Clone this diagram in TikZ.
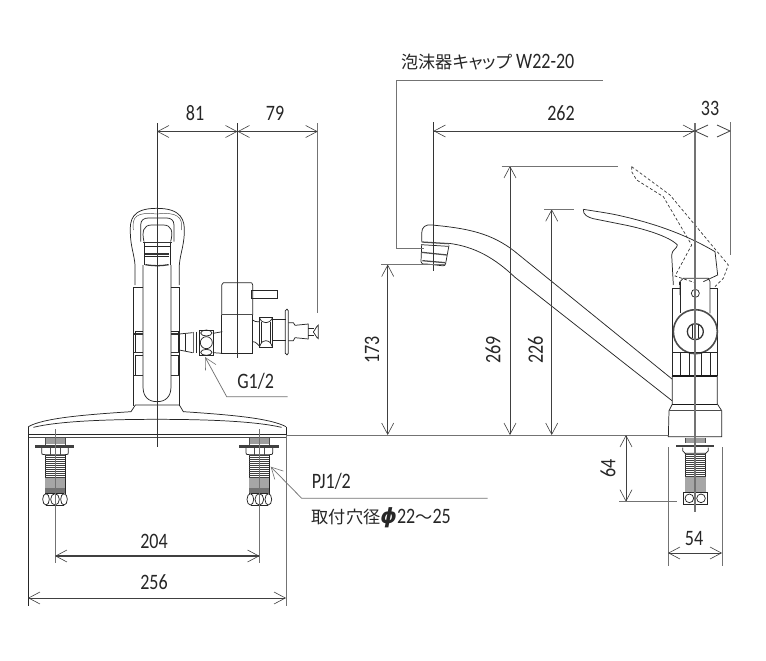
\documentclass[tikz,border=0pt]{standalone}
\usepackage{fontspec}
\setmainfont{Carlito}[FakeStretch=0.82]
\newfontfamily\jpfont{Noto Sans CJK JP}[RawFeature=+palt,Scale=0.78]
\newfontfamily\phifont{DejaVu Sans}[Scale=0.95]
\usetikzlibrary{arrows.meta}
\definecolor{grayline}{gray}{0.45}
\definecolor{midgray}{gray}{0.62}
\tikzset{
  x=0.75pt,y=-0.75pt,
  barb/.tip={Straight Barb[length=8.5pt,width=9pt,line width=0.45pt]},
  part/.style={line width=0.55pt,draw=black!85},
  thin part/.style={line width=0.35pt,draw=black!70},
  heavy/.style={line width=0.95pt,draw=black!80},
  dashpart/.style={line width=0.5pt,draw=black!80,dash pattern=on 2.2pt off 1.6pt},
  ext/.style={line width=0.55pt,draw=grayline},
  center/.style={line width=0.7pt,draw=black!80},
  graycenter/.style={line width=0.8pt,draw=black!55},
  dim/.style={line width=0.6pt,draw=black!75},
  dima/.style={dim,barb-barb},
  lab/.style={inner sep=0pt,font=\fontsize{16.5}{18}\selectfont,text=black!85},
  zoomA/.style={shift={(20,190)},x=0.25pt,y=-0.25pt},
  zoomB/.style={shift={(20,400)},x=0.25pt,y=-0.25pt},
  zoomC/.style={shift={(620,150)},x=0.25pt,y=-0.25pt},
  zoomD/.style={shift={(640,280)},x=0.25pt,y=-0.25pt},
  zoomE/.style={shift={(385,200)},x=0.25pt,y=-0.25pt},
  zoomF/.style={shift={(200,270)},x=0.25pt,y=-0.25pt},
  screw/.pic={
    \fill[midgray] (-30,0) rectangle (30,18);
    \draw[thin part] (-30,0) -- (-30,22) (30,0) -- (30,22);
    \fill[black!75] (-60,23) rectangle (58,31);
    \draw[part] (-40,31) -- (-40,45) .. controls (-40,50) .. (-30,51) -- (30,51) .. controls (40,50) .. (40,45) -- (40,31);
    \draw[thin part] (-15,31) -- (-15,51) (15,31) -- (15,51);
    \draw[part] (-30,51) -- (-30,168) (30,51) -- (30,168);
    \foreach \yy in {54,60,...,120} \draw[line width=0.3pt,black!75] (-30,\yy) -- (30,\yy);
    \fill[black!35] (-30,122) rectangle (30,152);
    \fill[black!55] (-30,152) rectangle (30,166);
    \draw[part] (-27,185) ellipse (10 and 17);
    \draw[part] (0,185) ellipse (13 and 17);
    \draw[part] (27,185) ellipse (10 and 17);
    \draw[part] (-26,168) -- (26,168) (-26,202) -- (26,202);
  }
}
\begin{document}
\begin{tikzpicture}
\useasboundingbox (0,0) rectangle (766,660);
\fill[white] (0,0) rectangle (766,660);

% ===== front view, upper part
\begin{scope}[zoomA]
\draw[part] (345,285) -- (345,225) .. controls (343,195) and (332,170) .. (331,130) .. controls (329,90) and (335,55) .. (410,55) .. controls (485,55) and (495,90) .. (493,130) .. controls (491,170) and (480,195) .. (478,225) -- (478,285);
\draw[thin part] (340,120) .. controls (335,80) and (350,65) .. (410,72) .. controls (470,65) and (490,80) .. (484,120);
\draw[part] (362,155) -- (362,105) .. controls (362,90) and (372,84) .. (385,84) -- (440,84) .. controls (452,84) and (462,90) .. (462,105) -- (462,155);
\draw[part] (372,155) .. controls (365,125) and (370,105) .. (395,105) -- (430,105) .. controls (455,105) and (460,125) .. (452,155);
\draw[heavy] (370,158) -- (455,158);
\draw[part] (372,160) -- (372,225) (450,160) -- (450,225);
\draw[part] (372,168) -- (450,168);
\draw[heavy] (375,192) -- (448,192);
\draw[part] (375,200) -- (448,200);
\draw[heavy] (376,224) .. controls (400,228) and (425,228) .. (446,224);
\draw[part] (369,225) -- (369,590) .. controls (369,620) and (385,635) .. (411,635) .. controls (437,635) and (453,620) .. (453,590) -- (453,225);
\draw[part] (340,292) -- (340,648) (478,292) -- (478,648);
\draw[part] (340,292) -- (369,292) (453,292) -- (478,292);
\draw[part] (345,425) -- (369,425) (453,425) -- (478,425);
\draw[heavy] (343,432) -- (369,432) (453,432) -- (478,432);
\draw[part] (345,425) -- (345,488) (475,425) -- (475,488);
\draw[heavy] (343,488) -- (369,488) (453,488) -- (478,488);
\draw[part] (345,495) -- (369,495) (453,495) -- (478,495);
\draw[part] (345,495) -- (345,555) (475,495) -- (475,555);
\draw[heavy] (343,556) -- (369,556) (453,556) -- (478,556);
% valve
\draw[part] (478,432) -- (518,428) (478,480) -- (518,488);
\draw[part] (496,432) -- (496,482);
\draw[heavy,draw=black!60] (520,425) -- (520,490);
\draw[part] (528,425) -- (528,490);
\draw[part] (538,420) -- (580,420) -- (580,496) -- (538,496) -- cycle;
\draw[part] (559,458) circle (18);
\draw[part] (559,429) ellipse (17 and 9);
\draw[part] (559,487) ellipse (17 and 9);
\draw[part] (580,430) .. controls (590,428) .. (607,425);
\draw[part] (580,488) -- (607,490);
\end{scope}

% ===== tap body
\begin{scope}[zoomF]
\draw[part] (65,135) -- (65,45) .. controls (65,40) .. (70,38) -- (150,38) .. controls (156,38) .. (158,45) -- (158,135);
\draw[heavy,draw=black!70] (65,133) -- (158,133);
\draw[part] (155,60) -- (232,60) -- (232,85) -- (155,85) -- cycle;
\draw[part] (65,135) -- (65,250) -- (158,250) -- (158,135);
\draw[part] (158,150) .. controls (165,155) .. (178,155);
\draw[part] (158,215) .. controls (165,215) .. (178,228);
\draw[part] (178,143) -- (218,143) -- (218,232) -- (178,232) -- cycle;
\draw[part] (178,143) .. controls (185,155) .. (198,158) .. controls (210,155) .. (218,143);
\draw[part] (178,232) .. controls (185,215) .. (198,212) .. controls (210,215) .. (218,232);
\draw[part] (184,155) -- (184,220) (212,155) -- (212,220);
\draw[part] (218,148) -- (258,148) (218,212) -- (258,212);
\draw[part] (256,122) -- (256,250) .. controls (258,256) and (264,256) .. (265,250) -- (265,122) .. controls (264,116) and (258,116) .. (256,122);
\draw[part] (265,158) -- (280,158) -- (285,166) -- (325,162) -- (325,207) -- (285,203) -- (280,212) -- (265,212);
\draw[part] (325,176) -- (342,176) (325,196) -- (342,196);
\draw[part] (340,186) .. controls (345,180) and (350,168) .. (355,165) -- (355,206) .. controls (350,204) and (345,192) .. (340,186);
\end{scope}

% ===== deck plate, front
\begin{scope}[zoomB]
\draw[part] (25,80) .. controls (70,55) and (180,45) .. (333,35) -- (346,15) -- (478,15) -- (490,35) .. controls (640,45) and (750,55) .. (798,80);
\draw[part] (40,82) .. controls (110,65) and (240,58) .. (411,58) .. controls (580,58) and (710,65) .. (785,82);
\draw[part] (25,80) -- (25,108) (798,80) -- (798,108);
\draw[part] (25,103) -- (798,103);
\draw[line width=0.7pt,black!70] (25,113) -- (798,113);
\end{scope}

% ===== screws
\begin{scope}[zoomB,shift={(105,113)}]
\pic {screw};
\end{scope}
\begin{scope}[zoomB,shift={(718,113)}]
\pic {screw};
\end{scope}

% ===== side view: spout
\begin{scope}[zoomE]
\draw[part] (110,125) -- (110,100) .. controls (110,80) and (122,73) .. (140,75) .. controls (250,85) and (320,100) .. (390,155);
\draw[part] (192,130) .. controls (270,140) and (330,175) .. (390,232);
\draw[heavy,draw=black!70] (110,126) -- (192,131);
\draw[part] (108,134) -- (190,139);
\draw[part] (110,134) -- (108,185) .. controls (110,192) .. (125,192) -- (170,197) .. controls (180,197) .. (182,190) -- (192,136);
\draw[heavy,draw=black!70] (110,157) -- (186,165);
\draw[heavy,draw=black!70] (112,182) -- (180,188);
\end{scope}
\coordinate (st1) at (515,251.7);
\coordinate (st2) at (672,379);
\coordinate (sb1) at (515,277.3);
\coordinate (sb2) at (672,400.7);
\draw[part] (st1) -- (st2) (sb1) -- (sb2);

% ===== side view: handle
\begin{scope}[zoomC]
\draw[part] (-110,178) .. controls (-60,186) and (-30,190) .. (0,197) .. controls (110,222) and (200,255) .. (285,305) -- (293,375) -- (250,395);
\draw[part] (-110,178) .. controls (-112,195) and (-95,202) .. (-80,206) -- (0,222) .. controls (70,235) and (150,260) .. (172,285) .. controls (172,295) and (155,300) .. (155,315) -- (160,405);
\draw[part] (178,395) -- (178,405);
\draw[dashpart] (35,50) -- (150,135) -- (325,345) -- (310,385) -- (285,410);
\draw[dashpart] (35,50) -- (35,65) -- (50,90) -- (130,140) -- (215,285) -- (165,378) -- (225,398);
\end{scope}

% ===== side view: body
\begin{scope}[zoomD]
\draw[part] (97,25) -- (97,288) (232,25) -- (232,288);
\draw[part] (97,25) -- (120,25) (210,25) -- (232,25);
\draw[part] (120,45) -- (120,5) -- (130,-5) -- (205,-5) -- (210,5) -- (210,100);
\draw[part] (120,5) -- (120,100);
\draw[part] (166,40) circle (12);
\draw[line width=1.2pt,black!70,fill=white] (166,155) circle (66);
\draw[heavy,fill=white] (166,155) circle (24);
\draw[part] (158,135) -- (158,175) (174,135) -- (174,175);
\draw[part] (97,218) -- (232,218);
\draw[part] (120,218) -- (120,288) (147,218) -- (147,288) (185,218) -- (185,288) (210,218) -- (210,288);
\draw[line width=1.2pt,black!90] (97,288) -- (232,288);
\draw[part] (97,288) -- (97,372) -- (87,392) -- (85,470) -- (245,470) -- (245,392) -- (232,372) -- (232,288);
\draw[line width=0.9pt,black!90] (97,373) -- (232,373);
\draw[thin part] (87,390) -- (245,390);
% lower fittings
\fill[midgray] (135,475) rectangle (195,490);
\draw[thin part] (135,475) -- (135,490) (195,475) -- (195,490);
\fill[black!75] (108,494) rectangle (222,502);
\draw[part] (128,503) -- (128,512) .. controls (130,518) .. (135,520) -- (197,520) .. controls (203,518) .. (205,512) -- (205,503);
\draw[part] (135,520) -- (135,637) (197,520) -- (197,637);
\foreach \yy in {524,530,...,590} \draw[line width=0.3pt,black!75] (135,\yy) -- (197,\yy);
\fill[black!35] (135,592) rectangle (197,636);
\draw[part] (130,637) rectangle (202,672);
\draw[part] (148,655) circle (13);
\draw[part] (183,655) circle (13);
\end{scope}

% ===== center lines
\coordinate (cfTop) at (157,123);
\coordinate (cfBot) at (157,447);
\draw[center] (cfTop) -- (cfBot);
\coordinate (tapTop) at (237.5,123);
\coordinate (tapBot) at (237.5,358);
\draw[center] (tapTop) -- (tapBot);
\coordinate (knobTop) at (317.7,123);
\coordinate (knobBot) at (317.7,313);
\draw[ext] (knobTop) -- (knobBot);
\draw[graycenter] (695,123) -- (695,512);
\draw[ext] (730,122) -- (730,255);
\draw[center] (433.5,122) -- (433.5,271);
% screw axes
\draw[ext] (55,429) -- (55,563);
\draw[ext] (259.5,429) -- (259.5,563);

% deck line extensions
\draw[ext] (286,435) -- (668,435);
\draw[part] (28,436) -- (28,606);
\draw[ext] (286,436) -- (286,606);
\draw[ext] (668,447) -- (668,566);
\draw[ext] (722,447) -- (722,566);

% ===== dimensions
\coordinate (d1) at (157,131.5);
\coordinate (d2) at (237.5,131.5);
\coordinate (d3) at (317.7,131.5);
\draw[dima] (d1) -- (d2);
\draw[dima] (d2) -- (d3);
\coordinate (d4) at (433.5,131);
\coordinate (d5) at (695,131);
\coordinate (d6) at (730,131);
\draw[dima] (d4) -- (d5);
\draw[dim] (708,125) -- (d5) -- (708,137);
\draw[dim] (717,125) -- (d6) -- (717,137);
\node[lab] (n81) at (195,113) {81};
\node[lab] (n79) at (275,113) {79};
\node[lab] (n262) at (561,113) {262};
\node[lab] (n33) at (710,108) {33};

\coordinate (v1) at (387.7,264.5);
\coordinate (v1b) at (387.7,435);
\draw[dima] (v1) -- (v1b);
\draw[ext] (381,264.5) -- (445,264.5);
\node[lab,rotate=90] (n173) at (372,350) {173};

\coordinate (v2) at (510,166);
\coordinate (v2b) at (510,435);
\draw[dima] (v2) -- (v2b);
\draw[ext] (501.5,166) -- (617.5,166);
\node[lab,rotate=90] (n269) at (493,350) {269};

\coordinate (v3) at (551.7,209.3);
\coordinate (v3b) at (551.7,435);
\draw[dima] (v3) -- (v3b);
\draw[ext] (544,209.3) -- (574,209.3);
\node[lab,rotate=90] (n226) at (535.5,350) {226};

\coordinate (v4) at (626,435);
\coordinate (v4b) at (626,501.7);
\draw[dima] (v4) -- (v4b);
\draw[ext] (619,501.7) -- (677,501.7);
\node[lab,rotate=90] (n64) at (608,468) {64};

\coordinate (h1) at (55,556);
\coordinate (h1b) at (259.5,556);
\draw[dima,line width=0.8pt] (h1) -- (h1b);
\node[lab] (n204) at (154,541) {204};
\coordinate (h2) at (28,598);
\coordinate (h2b) at (286,598);
\draw[dima] (h2) -- (h2b);
\node[lab] (n256) at (154,582) {256};
\coordinate (h3) at (668,553);
\coordinate (h3b) at (722,553);
\draw[dima] (h3) -- (h3b);
\node[lab] (n54) at (694,539) {54};

% ===== leaders and notes
\node[lab,anchor=west] (ncap) at (401,62) {{\jpfont 泡沫器キャップ} W22-20};
\coordinate (capa) at (396,80);
\coordinate (capb) at (602.5,80);
\coordinate (capc) at (396,248);
\coordinate (capd) at (424,248);
\draw[ext] (capb) -- (capa) -- (capc) -- (capd);

\node[lab,anchor=west] (ng) at (237,381) {G1/2};
\coordinate (ga) at (205,357);
\coordinate (gb) at (226.7,396.7);
\coordinate (gc) at (287.7,396.7);
\draw[ext,barb-] (ga) -- (gb) -- (gc);

\node[lab,anchor=west] (npj) at (311.5,481.5) {PJ1/2};
\coordinate (pa) at (270.7,466.7);
\coordinate (pb) at (301.7,498.3);
\coordinate (pc) at (487.7,498.3);
\draw[ext,barb-] (pa) -- (pb) -- (pc);
\node[lab,anchor=west] (nhole) at (311.5,518) {{\jpfont 取付穴径}{\phifont\bfseries\itshape ϕ}22{\jpfont 〜}25};
\end{tikzpicture}
\end{document}
